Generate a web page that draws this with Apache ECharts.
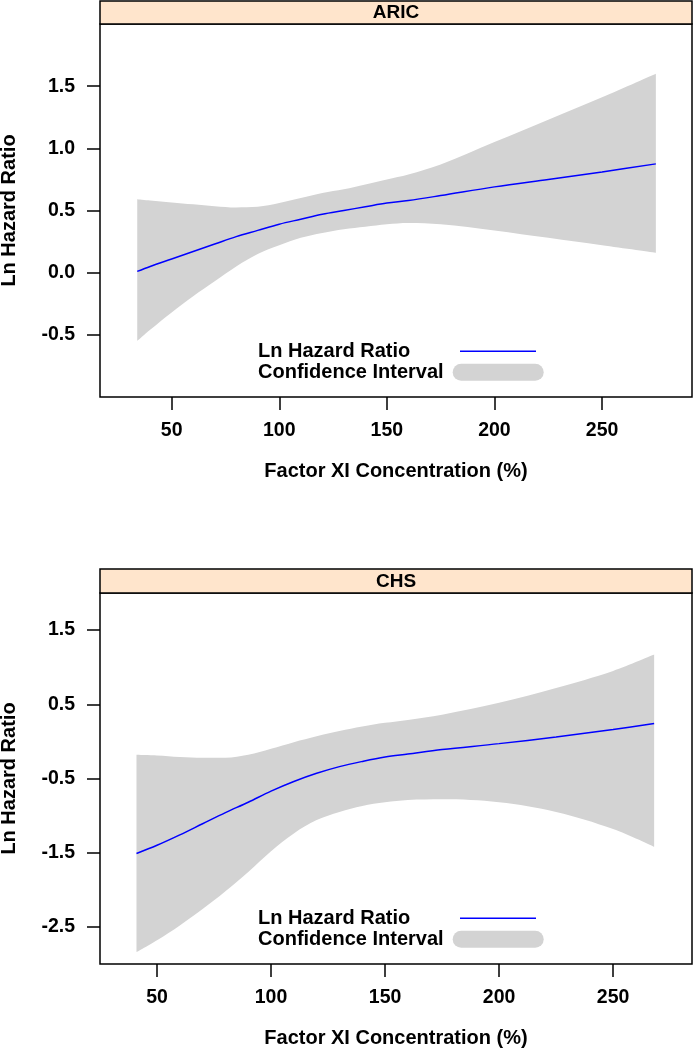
<!DOCTYPE html>
<html>
<head>
<meta charset="utf-8">
<script src="https://cdn.jsdelivr.net/npm/echarts@6/dist/echarts.min.js"></script>
<style>
html,body{margin:0;padding:0;background:#fff;}
#chart{width:693px;height:1050px;}
</style>
</head>
<body>
<div id="chart"></div>
<script>
// ---------- data ----------
const panelTitles = ['ARIC', 'CHS'];
const xTickValues = [50, 100, 150, 200, 250];
const aricYTicks = [-0.5, 0, 0.5, 1.0, 1.5];
const chsYTicks = [-2.5, -1.5, -0.5, 0.5, 1.5];

const aricX     = [34, 40, 50, 60, 70, 80, 90, 100, 110, 120, 130, 140, 150, 160, 175, 200, 225, 250, 275];
const aricFit   = [0.01, 0.05, 0.11, 0.17, 0.23, 0.29, 0.34, 0.39, 0.43, 0.47, 0.50, 0.53, 0.56, 0.58, 0.62, 0.69, 0.75, 0.81, 0.875];
const aricLower = [-0.55, -0.46, -0.32, -0.19, -0.07, 0.05, 0.15, 0.22, 0.28, 0.32, 0.35, 0.37, 0.39, 0.40, 0.39, 0.34, 0.28, 0.22, 0.16];
const aricUpper = [0.59, 0.58, 0.565, 0.55, 0.535, 0.525, 0.53, 0.56, 0.60, 0.64, 0.67, 0.71, 0.75, 0.79, 0.87, 1.05, 1.23, 1.41, 1.60];

const chsX     = [41, 50, 60, 70, 80, 90, 100, 110, 120, 130, 140, 150, 160, 175, 200, 225, 250, 268];
const chsFit   = [-1.51, -1.40, -1.26, -1.11, -0.96, -0.82, -0.67, -0.54, -0.43, -0.34, -0.27, -0.21, -0.17, -0.11, -0.03, 0.06, 0.16, 0.24];
const chsLower = [-2.84, -2.68, -2.48, -2.26, -2.02, -1.76, -1.48, -1.24, -1.06, -0.95, -0.87, -0.82, -0.79, -0.78, -0.82, -0.95, -1.18, -1.42];
const chsUpper = [-0.18, -0.19, -0.21, -0.22, -0.22, -0.18, -0.10, -0.01, 0.07, 0.14, 0.20, 0.25, 0.29, 0.36, 0.52, 0.72, 0.95, 1.17];

const seriesNames = ['Ln Hazard Ratio', 'Confidence Interval'];
const xAxisTitle = 'Factor XI Concentration (%)';
const yAxisTitle = 'Ln Hazard Ratio';

// ---------- layout / style ----------
const FONT = '"Liberation Sans", Arial, Helvetica, sans-serif';
const LINE_COLOR = '#0000ff';
const BAND_COLOR = '#d3d3d3';
const STRIP_COLOR = '#ffe5cc';
const GRID_LEFT = 100, GRID_WIDTH = 592;

const panels = [
  { title: panelTitles[0], x: aricX, fit: aricFit, lo: aricLower, hi: aricUpper, yTicks: aricYTicks,
    stripTop: 1, top: 24, height: 373, xMin: 16.7, xMax: 291.8, yMin: -1, yMax: 2 },
  { title: panelTitles[1], x: chsX, fit: chsFit, lo: chsLower, hi: chsUpper, yTicks: chsYTicks,
    stripTop: 569, top: 593, height: 371, xMin: 25.0, xMax: 284.6, yMin: -3, yMax: 2 }
];

const grid = [], xAxis = [], yAxis = [], series = [], legend = [], graphic = [];
const tickFont = { color: '#000', fontSize: 19.5, fontWeight: 'bold', fontFamily: FONT };
const nameFont = { color: '#000', fontSize: 20, fontWeight: 'bold', fontFamily: FONT };

panels.forEach((p, i) => {
  grid.push({ left: GRID_LEFT, top: p.top, width: GRID_WIDTH, height: p.height, show: true,
    borderColor: '#000', borderWidth: 1.5, backgroundColor: 'transparent',
    containLabel: false, outerBoundsMode: 'none', z: 4 });

  xAxis.push({
    type: 'value', gridIndex: i, min: p.xMin, max: p.xMax, position: 'bottom',
    axisLine: { show: false, onZero: false },
    splitLine: { show: false },
    axisTick: { show: true, length: 13, lineStyle: { color: '#000', width: 1.5 }, customValues: xTickValues },
    axisLabel: Object.assign({ customValues: xTickValues, margin: 23.5, formatter: v => String(v) }, tickFont),
    name: xAxisTitle, nameLocation: 'middle', nameGap: 64, nameTextStyle: nameFont
  });

  yAxis.push({
    type: 'value', gridIndex: i, min: p.yMin, max: p.yMax, position: 'left',
    axisLine: { show: false, onZero: false },
    splitLine: { show: false },
    axisTick: { show: true, length: 13, lineStyle: { color: '#000', width: 1.5 }, customValues: p.yTicks },
    axisLabel: Object.assign({ customValues: p.yTicks, margin: 25, formatter: v => v.toFixed(1) }, tickFont),
    name: yAxisTitle, nameLocation: 'middle', nameGap: 81, nameRotate: 90, nameTextStyle: nameFont
  });

  // value dimension first so that stacking happens on the y values
  const stackId = 'ci' + i;
  series.push({
    name: 'lower' + i, type: 'line', xAxisIndex: i, yAxisIndex: i,
    dimensions: ['val', 'xv'], encode: { x: 'xv', y: 'val' },
    data: p.x.map((x, k) => [p.lo[k], x]),
    stack: stackId, stackStrategy: 'all', smooth: 0.35, symbol: 'none', silent: true,
    lineStyle: { opacity: 0 }, z: 1
  });
  series.push({
    name: seriesNames[1], type: 'line', xAxisIndex: i, yAxisIndex: i,
    dimensions: ['val', 'xv'], encode: { x: 'xv', y: 'val' },
    data: p.x.map((x, k) => [p.hi[k] - p.lo[k], x]),
    stack: stackId, stackStrategy: 'all', smooth: 0.35, symbol: 'none', silent: true,
    color: BAND_COLOR,
    lineStyle: { opacity: 0 }, areaStyle: { color: BAND_COLOR, opacity: 1 }, z: 1
  });
  series.push({
    name: seriesNames[0], type: 'line', xAxisIndex: i, yAxisIndex: i,
    data: p.x.map((x, k) => [x, p.fit[k]]),
    smooth: 0.35, symbol: 'none', silent: true, color: LINE_COLOR,
    lineStyle: { color: LINE_COLOR, width: 1.5 }, z: 3
  });

  const bottom = p.top + p.height;
  const richTok = (w) => ({ a: { width: w, align: 'left', fontSize: 20, fontWeight: 'bold', fontFamily: FONT, color: '#000', lineHeight: 19 } });
  legend.push({
    left: 258, top: bottom - 55.8, padding: 0, orient: 'vertical', align: 'right',
    itemWidth: 76, itemHeight: 1.5, selectedMode: false,
    data: [{ name: seriesNames[0], icon: 'rect', itemStyle: { color: LINE_COLOR, borderWidth: 0 } }],
    formatter: '{a|{name}}',
    textStyle: { color: '#000', fontSize: 20, fontWeight: 'bold', fontFamily: FONT, rich: richTok(197) }
  });
  legend.push({
    left: 258, top: bottom - 34.7, padding: 0, orient: 'vertical', align: 'right',
    itemWidth: 91, itemHeight: 17, selectedMode: false,
    data: [{ name: seriesNames[1], icon: 'path://M8.5,0 H82.5 A8.5,8.5 0 0 1 82.5,17 H8.5 A8.5,8.5 0 0 1 8.5,0 Z',
             itemStyle: { color: BAND_COLOR, borderWidth: 0 } }],
    formatter: '{a|{name}}',
    textStyle: { color: '#000', fontSize: 20, fontWeight: 'bold', fontFamily: FONT, rich: richTok(189.7) }
  });

  graphic.push({
    type: 'rect', z: 10,
    shape: { x: GRID_LEFT, y: p.stripTop, width: GRID_WIDTH, height: p.top - p.stripTop },
    style: { fill: STRIP_COLOR, stroke: '#000', lineWidth: 1.5 }
  });
  graphic.push({
    type: 'text', z: 11,
    x: GRID_LEFT + GRID_WIDTH / 2, y: (p.stripTop + p.top) / 2 + 0.5,
    style: { text: p.title, fill: '#000', font: 'bold 19px ' + FONT, align: 'center', verticalAlign: 'middle',
             textAlign: 'center', textVerticalAlign: 'middle' }
  });
});

const chart = echarts.init(document.getElementById('chart'), null, { renderer: 'canvas' });
chart.setOption({
  animation: false,
  backgroundColor: '#fff',
  grid, xAxis, yAxis, series, legend, graphic
});
</script>
</body>
</html>
